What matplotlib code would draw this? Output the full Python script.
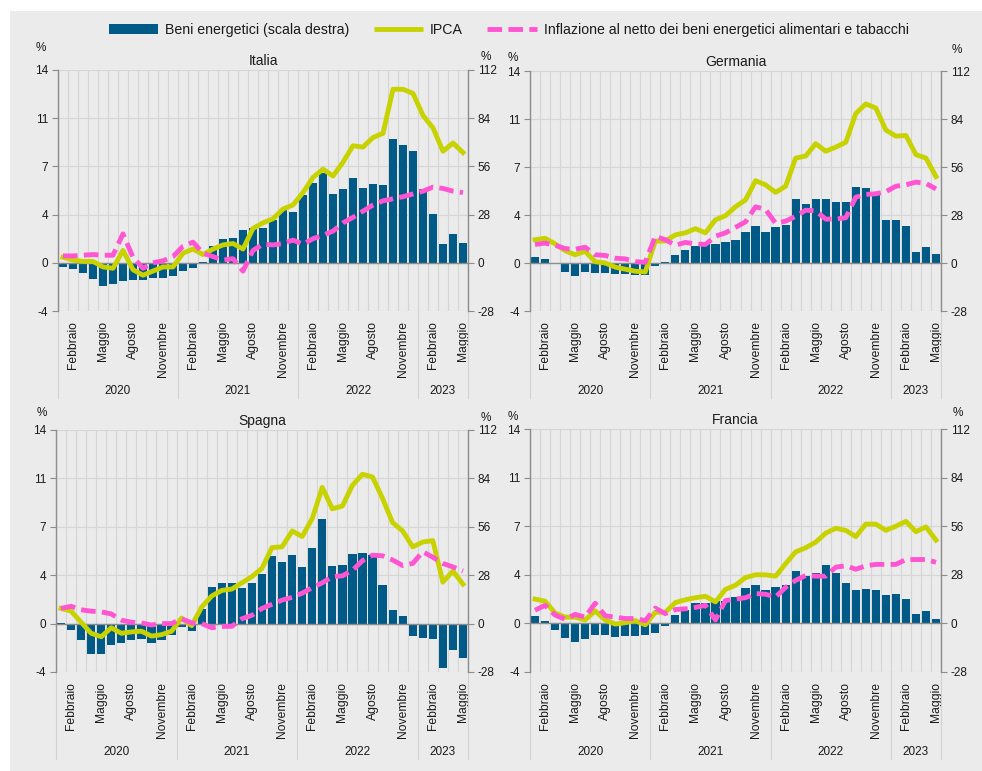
import numpy as np
import matplotlib
matplotlib.use("Agg")
import matplotlib.pyplot as plt
from matplotlib.patches import Rectangle, Patch
from matplotlib.lines import Line2D
from matplotlib.transforms import blended_transform_factory

plt.rcParams['font.family'] = ['Liberation Sans', 'DejaVu Sans']

# ---------------- data ----------------
months_idx = list(range(41))  # Jan 2020 .. May 2023
month_tick_pos = [1, 4, 7, 10, 13, 16, 19, 22, 25, 28, 31, 34, 37, 40]
month_tick_labels = ["Febbraio", "Maggio", "Agosto", "Novembre"] * 3 + ["Febbraio", "Maggio"]
years = ["2020", "2021", "2022", "2023"]
year_centers = [5.5, 17.5, 29.5, 38.0]
year_bounds = [-0.5, 11.5, 23.5, 35.5, 40.5]
left_ticks = [-3.5, 0, 3.5, 7, 10.5, 14]
left_labels = ["-4", "0", "4", "7", "11", "14"]
right_ticks = [-28, 0, 28, 56, 84, 112]
right_labels = ["-28", "0", "28", "56", "84", "112"]

legend_labels = ["Beni energetici (scala destra)", "IPCA",
                 "Inflazione al netto dei beni energetici alimentari e tabacchi"]

italia_energy = [-2.3, -3.5, -5.8, -9.7, -13.2, -12.6, -10.5, -10.1, -10.0, -8.9, -8.9, -7.9,
                 -5.0, -3.3, 0.5, 9.7, 14.0, 14.3, 19.0, 20.0, 20.3, 24.8, 30.6, 29.6,
                 39.3, 46.5, 52.0, 40.0, 42.8, 49.0, 43.6, 45.5, 45.0, 71.9, 68.2, 65.0,
                 42.8, 28.3, 10.7, 16.5, 11.6]
italia_ipca = [0.4, 0.2, 0.1, 0.1, -0.3, -0.4, 0.9, -0.5, -0.9, -0.6, -0.3, -0.3,
               0.7, 1.0, 0.6, 1.0, 1.3, 1.4, 1.0, 2.5, 2.9, 3.2, 3.9, 4.2,
               5.1, 6.2, 6.8, 6.3, 7.3, 8.5, 8.4, 9.1, 9.4, 12.6, 12.6, 12.3,
               10.7, 9.8, 8.1, 8.7, 8.0]
italia_core = [0.5, 0.5, 0.55, 0.6, 0.55, 0.55, 2.1, 0.4, -0.4, 0.0, 0.15, 0.45,
               1.2, 1.5, 0.7, 0.45, 0.2, 0.3, -0.6, 0.9, 1.35, 1.3, 1.4, 1.65,
               1.35, 1.75, 2.0, 2.3, 2.9, 3.3, 3.75, 4.2, 4.5, 4.65, 4.8, 5.0,
               5.2, 5.5, 5.4, 5.2, 5.1]

germania_energy = [3.5, 2.3, -0.6, -5.3, -7.8, -5.5, -5.8, -5.8, -6.4, -6.4, -7.2, -6.8,
                   -2.0, 0.4, 4.5, 7.8, 9.7, 11.3, 11.3, 12.3, 13.6, 18.1, 21.8, 18.1,
                   20.9, 22.4, 37.6, 34.7, 37.6, 37.6, 35.7, 35.7, 44.4, 43.7, 40.4, 25.3,
                   25.3, 21.8, 6.4, 9.5, 5.3]
germania_ipca = [1.7, 1.8, 1.4, 0.9, 0.6, 0.85, 0.1, 0.0, -0.3, -0.45, -0.6, -0.65,
                 1.6, 1.6, 2.05, 2.2, 2.5, 2.2, 3.15, 3.45, 4.1, 4.6, 6.0, 5.7,
                 5.15, 5.6, 7.65, 7.8, 8.7, 8.15, 8.45, 8.8, 10.9, 11.6, 11.3, 9.7,
                 9.25, 9.3, 7.9, 7.65, 6.3]
germania_core = [1.35, 1.45, 1.3, 1.05, 1.0, 1.15, 0.6, 0.55, 0.35, 0.3, 0.1, 0.05,
                 1.95, 1.7, 1.3, 1.5, 1.4, 1.35, 1.95, 2.2, 2.6, 3.0, 4.1, 3.9,
                 2.9, 3.05, 3.4, 3.85, 3.8, 3.2, 3.2, 3.3, 4.8, 5.0, 5.05, 5.2,
                 5.6, 5.7, 5.9, 5.8, 5.4]

spagna_energy = [0.2, -3.5, -9.7, -17.4, -17.8, -12.2, -11.0, -9.3, -8.7, -11.0, -9.7, -6.4,
                 -1.9, -4.2, 8.3, 21.2, 23.7, 23.2, 20.7, 23.6, 28.6, 39.2, 35.7, 39.6,
                 32.8, 43.8, 60.4, 33.4, 33.8, 40.5, 40.9, 39.6, 22.2, 7.7, 4.2, -7.1,
                 -8.3, -8.9, -25.7, -15.4, -19.7]
spagna_ipca = [1.1, 0.9, 0.1, -0.7, -0.95, -0.3, -0.7, -0.6, -0.55, -0.9, -0.8, -0.55,
               0.4, -0.15, 1.2, 2.0, 2.4, 2.5, 2.95, 3.4, 4.0, 5.5, 5.55, 6.7,
               6.3, 7.6, 9.85, 8.3, 8.5, 10.0, 10.8, 10.6, 9.05, 7.3, 6.7, 5.55,
               5.9, 6.0, 3.0, 3.8, 2.85]
spagna_core = [1.1, 1.25, 1.0, 0.9, 0.85, 0.7, 0.25, 0.1, 0.05, -0.1, 0.0, 0.0,
               0.35, 0.05, 0.0, -0.3, -0.2, -0.2, 0.35, 0.6, 1.1, 1.4, 1.7, 1.9,
               2.2, 2.6, 2.95, 3.4, 3.45, 3.85, 4.55, 4.95, 4.9, 4.6, 4.2, 4.35,
               5.2, 4.8, 4.35, 4.1, 3.8]

francia_energy = [4.2, 1.1, -3.8, -8.2, -10.7, -9.0, -6.9, -6.7, -7.7, -7.5, -7.5, -6.7,
                  -5.7, -1.3, 4.8, 8.0, 11.9, 11.9, 12.8, 12.8, 15.3, 20.5, 22.4, 19.5,
                  20.7, 22.0, 30.0, 27.4, 29.1, 33.9, 29.1, 23.4, 19.2, 20.1, 19.2, 16.1,
                  16.7, 14.0, 5.4, 7.3, 2.3]
francia_ipca = [1.75, 1.6, 0.75, 0.45, 0.45, 0.25, 0.9, 0.25, -0.05, 0.05, 0.2, -0.1,
                0.8, 0.8, 1.5, 1.7, 1.85, 1.95, 1.55, 2.45, 2.75, 3.3, 3.5, 3.5,
                3.4, 4.3, 5.15, 5.45, 5.85, 6.5, 6.85, 6.7, 6.25, 7.15, 7.15, 6.7,
                7.0, 7.35, 6.6, 6.95, 6.0]
francia_core = [0.95, 1.3, 0.6, 0.3, 0.65, 0.45, 1.45, 0.55, 0.45, 0.35, 0.35, 0.2,
                1.1, 0.7, 1.0, 1.05, 1.15, 1.3, 0.25, 1.65, 1.75, 1.85, 2.15, 2.1,
                1.9, 2.6, 3.1, 3.45, 3.4, 3.4, 4.05, 4.15, 3.9, 4.15, 4.25, 4.25,
                4.25, 4.6, 4.6, 4.6, 4.4]

# ---------------- style ----------------
W, H = 982, 771
BG = '#ebebeb'
BLUE = '#005a87'
YEL = '#c8d200'
PINK = '#ff55d2'
GRID = '#d5d5d5'
AXC = '#8c8c8c'
TXT = '#1a1a1a'
LW = 3.5
DASH = (3, 1.3)

fig = plt.figure(figsize=(W / 100, H / 100), dpi=100)
fig.patch.set_facecolor('white')
fig.add_artist(Rectangle((10 / W, 0), (W - 10) / W, (H - 11) / H,
                         transform=fig.transFigure, facecolor=BG, edgecolor='none', zorder=-10))


def panel(x0, x1, ytop, ybot, title, energy, ipca, core, pl, pr):
    rect = [x0 / W, 1 - ybot / H, (x1 - x0) / W, (ybot - ytop) / H]
    hpx = ybot - ytop
    axb = fig.add_axes(rect)
    axb.set_facecolor('none')
    axb.set_xlim(-0.5, 40.5)
    axb.set_ylim(-28, 112)
    axb.set_axisbelow(True)
    axb.bar(months_idx, energy, width=0.82, color=BLUE, zorder=3)
    axb.axhline(0, color=AXC, lw=1.0, zorder=4)
    axb.yaxis.tick_right()
    axb.set_yticks(right_ticks)
    axb.set_yticklabels(right_labels)
    axb.yaxis.grid(True, color=GRID, lw=0.8)
    axb.set_xticks(np.arange(-0.5, 41, 1), minor=True)
    axb.xaxis.grid(True, which='minor', color=GRID, lw=0.8)
    axb.set_xticks(month_tick_pos)
    axb.set_xticklabels(month_tick_labels)
    axb.tick_params(axis='x', which='both', length=0)
    axb.tick_params(axis='x', which='major', pad=7, labelrotation=90, labelsize=8.7, colors=TXT)
    axb.tick_params(axis='y', length=4, color=AXC, labelsize=8.5, labelcolor=TXT, pad=3)
    for s in ['left', 'top', 'bottom']:
        axb.spines[s].set_visible(False)
    axb.spines['right'].set_color(AXC)
    axb.spines['right'].set_linewidth(1.0)

    tr = blended_transform_factory(axb.transData, axb.transAxes)
    for xb in year_bounds:
        axb.plot([xb, xb], [0, -87 / hpx], transform=tr, color='#d2d2d2', lw=0.8, clip_on=False)
    for yc, yl in zip(year_centers, years):
        axb.text(yc, -80 / hpx, yl, transform=tr, ha='center', va='center', fontsize=8.5, color=TXT)

    axl = fig.add_axes(rect)
    axl.patch.set_visible(False)
    axl.set_xlim(-0.5, 40.5)
    axl.set_ylim(-3.5, 14)
    axl.plot(months_idx, ipca, color=YEL, lw=LW, solid_joinstyle='round', zorder=5)
    axl.plot(months_idx, core, color=PINK, lw=LW, dashes=DASH, zorder=6)
    axl.set_yticks(left_ticks)
    axl.set_yticklabels(left_labels)
    axl.set_xticks([])
    axl.tick_params(axis='y', length=4, color=AXC, labelsize=8.5, labelcolor=TXT, pad=3)
    for s in ['right', 'top', 'bottom']:
        axl.spines[s].set_visible(False)
    axl.spines['left'].set_color(AXC)
    axl.spines['left'].set_linewidth(1.0)

    fig.text((x0 + x1) / 2 / W, 1 - (ytop - 9) / H, title, ha='center', va='center',
             fontsize=10, color=TXT)
    fig.text(pl[0] / W, 1 - pl[1] / H, '%', ha='center', va='center', fontsize=8.5, color=TXT)
    fig.text(pr[0] / W, 1 - pr[1] / H, '%', ha='center', va='center', fontsize=8.5, color=TXT)


panel(58, 468, 70, 311, 'Italia', italia_energy, italia_ipca, italia_core, (41, 48), (486, 57))
panel(530, 941, 71, 311, 'Germania', germania_energy, germania_ipca, germania_core, (513, 58), (957, 50))
panel(56, 468, 430, 672, 'Spagna', spagna_energy, spagna_ipca, spagna_core, (42, 413), (486, 418))
panel(530, 941, 429, 672, 'Francia', francia_energy, francia_ipca, francia_core, (513, 417), (958, 413))

handles = [Patch(facecolor=BLUE, edgecolor='none'),
           Line2D([], [], color=YEL, lw=LW, solid_capstyle='butt'),
           Line2D([], [], color=PINK, lw=LW, dashes=DASH)]
fig.legend(handles, legend_labels, loc='center', bbox_to_anchor=(0.518, 1 - 30 / H), ncol=3,
           frameon=False, fontsize=10.2, handlelength=3.5, handletextpad=0.5, columnspacing=1.7,
           labelcolor=TXT)

fig.savefig('out.png', dpi=100, facecolor=fig.get_facecolor())
